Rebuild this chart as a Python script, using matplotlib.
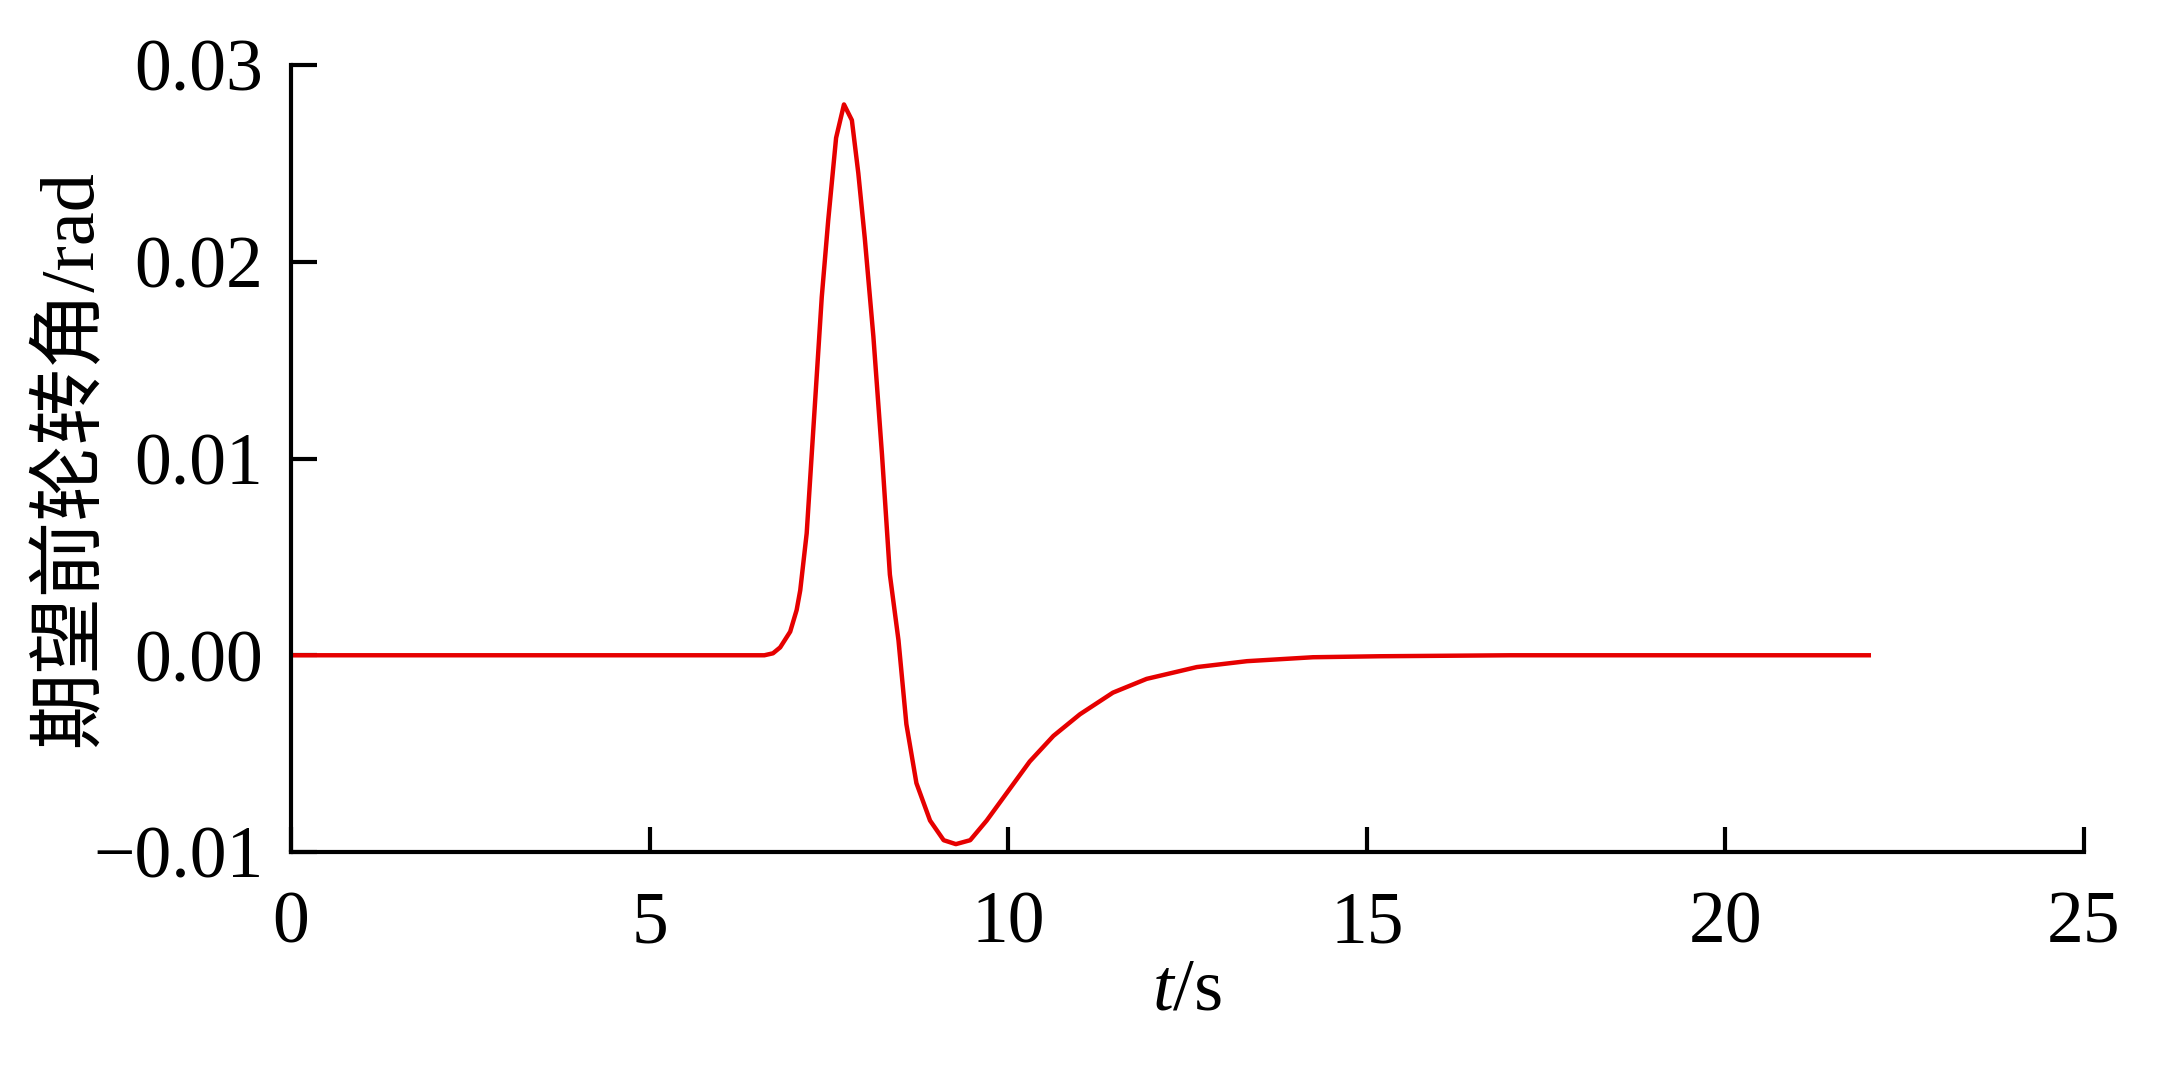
import matplotlib
matplotlib.use("Agg")
import matplotlib.pyplot as plt

# Data
t = [0.0, 6.60, 6.72, 6.82, 6.96, 7.05, 7.10, 7.19, 7.26, 7.33, 7.40, 7.49, 7.60, 7.71,
     7.82, 7.91, 8.00, 8.12, 8.24, 8.35, 8.47, 8.58, 8.72, 8.91, 9.10, 9.27,
     9.47, 9.70, 10.0, 10.30, 10.63, 11.0, 11.46, 11.93, 12.63, 13.33, 14.25,
     15.18, 17.0, 19.0, 22.0]
y = [0.0, 0.0, 0.0001, 0.0004, 0.0012, 0.0023, 0.0033, 0.0062, 0.0102, 0.0142,
     0.0182, 0.0221, 0.0263, 0.0280, 0.0272, 0.0245, 0.0212, 0.0162, 0.0102,
     0.0041, 0.00076, -0.0035, -0.0065, -0.0084, -0.0094, -0.0096, -0.0094,
     -0.0084, -0.0069, -0.0054, -0.0041, -0.0030, -0.0019, -0.0012, -0.0006,
     -0.0003, -0.0001, -0.00005, 0.0, 0.0, 0.0]

xticks = [0, 5, 10, 15, 20, 25]
yticks = [-0.01, 0.00, 0.01, 0.02, 0.03]
ytick_labels = ["\u22120.01", "0.00", "0.01", "0.02", "0.03"]
xlabel = "$t$/s"
ylabel = "期望前轮转角/rad"

plt.rcParams["font.family"] = ["Liberation Serif", "Noto Sans CJK SC"]
plt.rcParams["mathtext.fontset"] = "custom"
plt.rcParams["mathtext.rm"] = "Liberation Serif"
plt.rcParams["mathtext.it"] = "Liberation Serif:italic"

fig = plt.figure(figsize=(21.64, 10.67), dpi=100)
ax = fig.add_axes([0.1345, 0.2015, 0.8285, 0.7375])

ax.plot(t, y, color="#e60000", linewidth=3.2, solid_joinstyle="round")

ax.set_xlim(0, 25)
ax.set_ylim(-0.01, 0.03)
ax.set_xticks(xticks)
ax.set_xticklabels([str(v) for v in xticks])
ax.set_yticks(yticks)
ax.set_yticklabels(ytick_labels)

for s in ["top", "right"]:
    ax.spines[s].set_visible(False)
for s in ["left", "bottom"]:
    ax.spines[s].set_linewidth(3.0)
    ax.spines[s].set_color("black")

ax.tick_params(axis="x", direction="in", length=18, width=3.0, pad=28, labelsize=53)
ax.tick_params(axis="y", direction="in", length=19, width=3.0, pad=20, labelsize=53)

ax.set_xlabel(xlabel, fontsize=54, labelpad=0)
ax.set_ylabel(ylabel, fontsize=55, labelpad=-10)

fig.savefig("out.png", dpi=100)
